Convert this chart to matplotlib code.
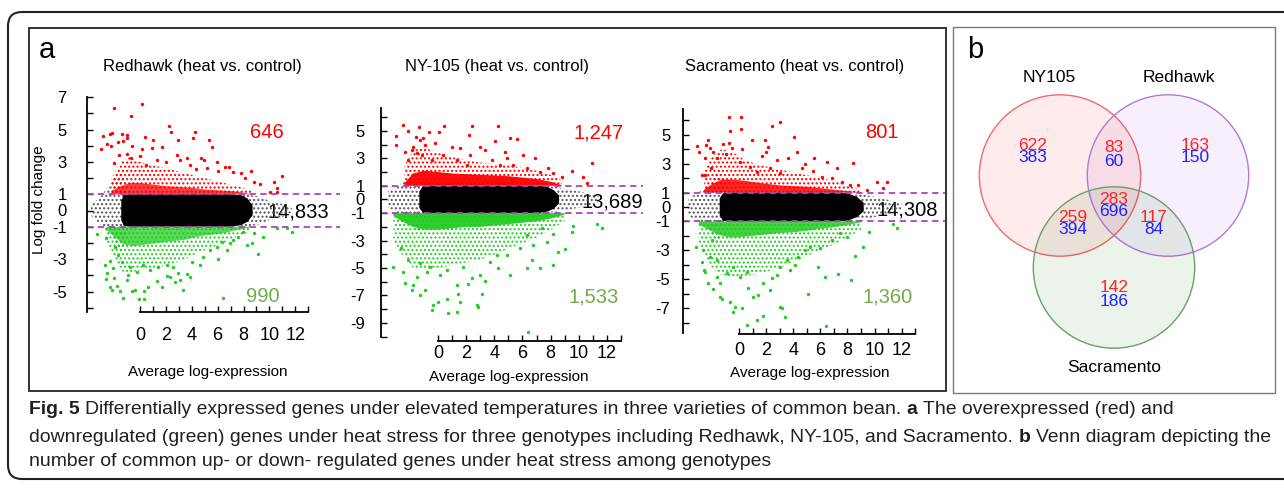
import numpy as np
import matplotlib
matplotlib.use('Agg')
import matplotlib.pyplot as plt
from matplotlib import font_manager
from matplotlib.patches import Circle, Rectangle, FancyBboxPatch

W, H = 1284, 488
RED = '#FF0000'
GREEN = '#22CC22'
PURPLE = '#B040C0'
COUNT_GREEN = '#70AD47'

plt.rcParams['font.family'] = 'Liberation Sans'
plt.rcParams['hatch.linewidth'] = 1.0

titles = ['Redhawk (heat vs. control)', 'NY-105 (heat vs. control)',
          'Sacramento (heat vs. control)']
up_counts = ['646', '1,247', '801']
down_counts = ['990', '1,533', '1,360']
ns_counts = ['14,833', '13,689', '14,308']

# ---- Redhawk: outlying up / down genes (avg log-expr, log fold change)
rh_up = [(-2.01, 6.31), (0.18, 6.55), (-0.72, 5.85), (2.22, 5.22), (2.40, 4.85),
         (4.28, 4.83), (-2.88, 4.58), (-2.32, 4.70), (-2.14, 4.80), (-1.42, 4.70),
         (-1.03, 4.66), (-0.98, 4.46), (0.36, 4.52), (1.03, 4.33), (2.91, 4.35),
         (4.10, 4.46), (5.33, 4.33), (5.59, 3.90), (-3.04, 3.80), (-2.52, 4.09),
         (-2.21, 4.00), (-1.70, 4.25), (-1.31, 4.29), (-0.59, 4.00), (0.18, 3.80),
         (0.90, 3.88), (1.70, 3.90), (2.83, 3.43), (3.66, 3.22), (4.69, 3.22),
         (4.95, 3.12), (5.92, 2.97), (6.54, 2.71), (6.88, 2.69), (7.78, 2.29),
         (8.55, 2.44), (8.81, 1.74), (10.97, 2.15), (10.38, 1.74), (10.56, 1.41),
         (-2.01, 2.91), (-1.60, 3.43), (-0.98, 3.47), (-0.72, 3.22), (0.00, 3.39),
         (0.46, 2.81), (1.29, 3.12), (2.01, 2.97), (3.09, 3.12), (3.86, 2.81),
         (4.33, 2.56), (5.20, 2.63), (6.05, 2.44), (7.21, 2.40), (8.11, 1.99),
         (9.27, 1.62), (10.05, 1.12), (10.59, 1.12)]
rh_down = [(-3.30, -1.47), (-2.63, -1.72), (-2.70, -3.36), (-2.52, -3.84), (-2.65, -4.25),
           (-2.01, -4.19), (-2.32, -4.74), (-1.80, -4.66), (-1.55, -4.95), (-1.29, -5.42),
           (-2.19, -4.91), (-1.03, -4.29), (-0.90, -3.98), (-0.64, -4.95), (-0.39, -4.91),
           (-0.05, -5.48), (0.31, -4.95), (0.33, -5.48), (0.64, -4.74), (1.29, -4.33),
           (1.67, -4.74), (2.11, -4.04), (2.70, -4.39), (3.09, -4.29), (3.30, -4.91),
           (3.61, -3.92), (3.86, -4.08), (3.99, -3.16), (4.64, -3.36), (6.05, -3.01),
           (6.44, -5.42), (6.96, -2.03), (7.21, -1.82), (7.99, -1.31), (8.63, -1.99),
           (8.84, -1.41), (9.09, -2.69), (9.53, -1.66), (10.56, -1.10), (11.33, -1.10),
           (11.72, -1.35), (-1.93, -2.23), (-1.67, -2.75), (-1.42, -3.16), (-2.32, -3.10),
           (-2.06, -3.57), (-0.77, -3.47), (-0.26, -3.78), (0.26, -3.36), (0.77, -3.67),
           (1.42, -3.47), (2.06, -3.36), (2.58, -3.47), (2.96, -3.88), (2.32, -4.08),
           (5.41, -2.44), (5.93, -2.23), (4.89, -2.85), (6.31, -1.92), (6.70, -2.44),
           (7.60, -1.62), (8.24, -2.13)]
rh_core_x = [-1.45, -1.25, -0.8, 0, 2, 4, 6, 7, 7.8, 8.3, 8.7]
rh_core_hi = [0.6, 0.95, 1.0, 1.0, 1.0, 1.0, 1.0, 1.0, 0.95, 0.75, 0.3]
rh_core_lo = [-0.6, -0.95, -1.0, -1.0, -1.0, -1.0, -1.0, -1.0, -0.9, -0.7, -0.3]
rh_fringe_x = [-3.8, -3.0, -2.2, -1.4, -1.0, 0.0, 8.0, 9.0, 10.0, 11.0, 11.8]
rh_fringe_hi = [0.3, 0.9, 1.8, 2.5, 1.2, 1.0, 1.0, 0.9, 0.6, 0.4, 0.1]
rh_fringe_lo = [-0.3, -0.9, -1.6, -2.6, -1.2, -1.0, -1.0, -0.9, -0.6, -0.4, -0.1]
rh_upband_x = [-2.2, -1.5, -0.8, 0, 1, 2, 3, 4, 5, 6, 7, 8, 8.6]
rh_upband_dense = [1.2, 1.5, 1.7, 1.7, 1.6, 1.5, 1.45, 1.4, 1.3, 1.25, 1.2, 1.1, 1.0]
rh_upband_sparse = [2.0, 3.0, 3.3, 3.0, 2.8, 2.6, 2.4, 2.2, 2.0, 1.8, 1.6, 1.4, 1.2]
rh_dnband_x = [-2.6, -2.0, -1.3, -0.5, 0.5, 1.5, 2.5, 3.5, 4.5, 5.5, 6.5, 7.5, 8.5]
rh_dnband_dense = [-1.2, -1.6, -2.1, -2.2, -2.1, -2.0, -1.9, -1.8, -1.6, -1.5, -1.4, -1.2, -1.05]
rh_dnband_sparse = [-2.0, -3.0, -3.8, -3.8, -3.6, -3.5, -3.3, -3.0, -2.6, -2.3, -2.0, -1.6, -1.3]

# ---- NY-105
ny_up = [(-2.49, 5.44), (-3.01, 4.66), (-3.04, 3.98), (-2.18, 5.02), (-1.38, 5.32),
         (-0.64, 4.95), (0.05, 4.95), (0.43, 5.39), (2.38, 5.39), (2.21, 4.71),
         (4.28, 5.39), (4.04, 4.27), (5.11, 4.46), (5.59, 4.39), (-1.59, 4.59),
         (-1.30, 4.34), (-1.07, 4.46), (-0.95, 3.98), (-1.78, 3.86), (-1.90, 3.61),
         (-2.37, 3.49), (-1.54, 3.37), (-0.24, 4.10), (0.95, 3.86), (1.55, 3.73),
         (2.26, 3.25), (2.97, 3.86), (3.33, 3.61), (4.75, 3.49), (4.87, 3.00),
         (6.06, 3.25), (6.89, 3.00), (7.84, 2.28), (8.79, 1.67), (9.51, 2.08),
         (10.29, 1.67), (10.93, 2.64), (10.58, 1.18), (-2.14, 2.88), (-1.19, 3.25),
         (-0.47, 2.88), (0.36, 3.25), (1.31, 2.88), (2.07, 2.52), (3.80, 2.88),
         (4.40, 2.52), (5.35, 2.52), (6.30, 2.28), (7.25, 2.03), (8.20, 1.91)]
ny_down = [(-3.21, -4.90), (-2.68, -3.52), (-2.37, -6.12), (-1.90, -6.61), (-1.78, -6.24),
           (-2.49, -5.27), (-2.14, -4.42), (-1.54, -5.63), (-1.30, -6.97), (-0.95, -6.61),
           (-0.47, -8.07), (-0.35, -7.70), (0.00, -7.46), (0.60, -7.26), (0.71, -8.31),
           (1.31, -8.19), (1.43, -6.90), (1.55, -7.46), (2.14, -6.19), (2.38, -5.75),
           (2.73, -7.70), (2.85, -7.87), (3.09, -6.92), (3.33, -5.95), (4.28, -5.02),
           (5.11, -5.51), (6.30, -4.98), (6.65, -4.42), (7.25, -4.98), (6.42, -9.70),
           (8.20, -4.78), (8.56, -3.86), (9.03, -3.61), (9.62, -1.91), (9.51, -2.35),
           (11.29, -1.81), (11.64, -2.10), (-1.30, -4.66), (-0.83, -5.27), (-0.59, -4.90),
           (0.12, -5.51), (0.60, -5.15), (1.31, -6.24), (1.78, -4.90), (2.97, -5.51),
           (3.68, -4.54), (4.16, -4.05), (4.87, -4.05), (5.82, -3.56), (6.77, -3.32),
           (7.72, -3.08), (8.15, -2.54), (7.37, -2.10), (6.30, -2.59)]
ny_core_x = [-1.35, -1.1, -0.6, 0, 2, 4, 6, 7, 7.7, 8.2, 8.6]
ny_core_hi = [0.6, 0.95, 1.0, 1.0, 1.0, 1.0, 1.0, 1.0, 0.95, 0.7, 0.3]
ny_core_lo = [-0.6, -0.95, -1.0, -1.0, -1.0, -1.0, -1.0, -1.0, -0.9, -0.7, -0.3]
ny_fringe_x = [-3.6, -3.0, -2.2, -1.4, -0.8, 0, 7.5, 8.5, 9.5, 10.5, 11.5]
ny_fringe_hi = [0.6, 0.9, 1.5, 2.0, 1.2, 1.0, 1.0, 0.9, 0.7, 0.5, 0.2]
ny_fringe_lo = [-0.6, -0.9, -1.5, -2.5, -1.2, -1.0, -1.0, -0.9, -0.7, -0.5, -0.2]
ny_upband_x = [-2.4, -1.8, -1.0, 0, 1, 2, 3, 4, 5, 6, 7, 8, 8.8]
ny_upband_dense = [1.2, 1.9, 2.1, 2.0, 1.9, 1.85, 1.8, 1.75, 1.7, 1.6, 1.5, 1.3, 1.05]
ny_upband_sparse = [2.5, 3.6, 3.8, 3.4, 3.1, 2.9, 2.7, 2.6, 2.5, 2.3, 2.1, 1.8, 1.4]
ny_dnband_x = [-3.2, -2.6, -1.8, -1.0, 0, 1, 2, 3, 4, 5, 6, 7, 8, 9]
ny_dnband_dense = [-1.2, -1.6, -2.0, -2.2, -2.2, -2.1, -2.0, -2.0, -1.9, -1.8, -1.7, -1.6, -1.4, -1.1]
ny_dnband_sparse = [-3.0, -4.0, -5.0, -5.0, -5.0, -4.8, -4.6, -4.4, -4.0, -3.6, -3.2, -2.8, -2.2, -1.6]

# ---- Sacramento
sa_up = [(-0.76, 6.25), (0.13, 6.21), (-0.69, 5.26), (0.13, 5.38), (2.39, 5.63),
         (3.01, 5.91), (4.05, 4.82), (-3.10, 4.24), (-2.98, 3.83), (-2.46, 4.29),
         (-2.29, 4.64), (-2.17, 4.06), (-2.54, 3.37), (-1.92, 3.83), (-1.67, 3.37),
         (-1.23, 4.34), (-0.98, 3.64), (-0.74, 4.41), (-0.56, 4.11), (0.22, 4.01),
         (0.96, 4.64), (1.90, 4.64), (1.97, 3.83), (1.65, 3.55), (2.15, 4.18),
         (4.24, 3.83), (2.76, 3.25), (3.63, 3.37), (4.86, 2.95), (5.53, 3.37),
         (4.61, 2.68), (6.46, 3.09), (7.20, 2.72), (8.43, 3.02), (8.80, 1.52),
         (9.42, 1.18), (10.16, 1.75), (10.65, 1.29), (10.95, 1.71), (0.05, 3.14),
         (0.79, 2.79), (1.28, 2.45), (2.27, 2.68), (3.01, 2.33), (5.48, 2.49),
         (6.09, 2.10), (6.83, 1.98), (7.57, 1.71), (8.19, 1.52), (-2.54, 2.21),
         (-2.12, 2.68), (-2.78, 2.21)]
sa_down = [(-3.20, -2.75), (-2.78, -3.78), (-2.61, -4.36), (-2.54, -4.48), (-2.29, -5.28),
           (-1.92, -5.70), (-1.67, -4.82), (-1.43, -6.21), (-1.30, -6.39), (-0.69, -6.55),
           (-0.44, -7.24), (-0.32, -6.90), (0.18, -7.01), (0.55, -8.17), (1.28, -7.82),
           (1.78, -7.52), (1.04, -6.21), (0.67, -5.63), (1.41, -6.09), (2.27, -5.74),
           (3.01, -6.90), (3.13, -7.01), (3.38, -7.64), (5.11, -6.04), (3.01, -4.13),
           (3.75, -4.36), (4.12, -4.01), (5.23, -2.75), (5.85, -4.13), (6.34, -4.87),
           (7.32, -4.64), (8.26, -5.05), (8.56, -3.39), (9.12, -2.75), (9.62, -1.75),
           (11.39, -1.20), (11.69, -1.43), (6.41, -8.24), (-1.43, -5.28), (-0.93, -4.59),
           (-0.44, -4.13), (0.05, -4.82), (0.55, -4.48), (1.78, -5.28), (2.39, -4.94),
           (2.76, -4.71), (3.50, -3.67), (4.37, -3.44), (4.86, -2.98), (5.97, -2.86),
           (6.83, -2.28), (7.45, -1.82), (7.94, -2.05), (-2.66, -2.98), (-2.17, -3.44),
           (-2.04, -2.28), (-1.67, -3.67)]
sa_core_x = [-1.45, -1.2, -0.7, 0, 2, 4, 6, 7, 8, 8.7, 9.2]
sa_core_hi = [0.6, 0.95, 1.0, 1.0, 1.0, 1.0, 1.0, 1.0, 0.95, 0.7, 0.3]
sa_core_lo = [-0.6, -0.95, -1.0, -1.0, -1.0, -1.0, -1.0, -1.0, -0.95, -0.7, -0.3]
sa_fringe_x = [-3.8, -3.0, -2.2, -1.5, -1.0, 0, 8, 9, 10, 11, 12]
sa_fringe_hi = [0.6, 1.0, 1.6, 2.6, 1.2, 1.0, 1.0, 0.9, 0.7, 0.5, 0.2]
sa_fringe_lo = [-0.6, -1.0, -1.6, -2.6, -1.2, -1.0, -1.0, -0.9, -0.7, -0.5, -0.2]
sa_upband_x = [-2.6, -2.0, -1.3, -0.5, 0.5, 2, 3, 4, 5, 6, 7, 8, 9]
sa_upband_dense = [1.2, 1.6, 1.9, 1.9, 1.8, 1.6, 1.5, 1.45, 1.4, 1.3, 1.2, 1.1, 1.0]
sa_upband_sparse = [2.5, 3.5, 4.0, 3.8, 3.2, 2.8, 2.6, 2.4, 2.2, 2.0, 1.8, 1.5, 1.2]
sa_dnband_x = [-3.0, -2.4, -1.6, -0.8, 0, 1, 2, 3, 4, 5, 6, 7, 8, 9]
sa_dnband_dense = [-1.2, -1.5, -1.9, -2.1, -2.1, -2.0, -1.9, -1.8, -1.75, -1.65, -1.5, -1.4, -1.25, -1.05]
sa_dnband_sparse = [-2.6, -3.8, -4.6, -4.8, -4.8, -4.7, -4.5, -4.2, -3.8, -3.4, -3.0, -2.6, -2.1, -1.6]

# y tick labels shown on each panel
rh_yticklabels = [7, 5, 3, 1, 0, -1, -3, -5]
ny_yticklabels = [5, 3, 1, 0, -1, -3, -5, -7, -9]
sa_yticklabels = [5, 3, 1, 0, -1, -3, -5, -7]
x_ticks = list(range(0, 14))
x_ticklabels = [0, 2, 4, 6, 8, 10, 12]

# Venn diagram (b)
venn_names = ['NY105', 'Redhawk', 'Sacramento']
venn_up = [622, 83, 163, 283, 259, 117, 142]
venn_down = [383, 60, 150, 696, 394, 84, 186]


fig = plt.figure(figsize=(W / 100, H / 100), dpi=100)

# overlay axes in pixel coordinates (origin top-left)
ov = fig.add_axes([0, 0, 1, 1])
ov.set_xlim(0, W)
ov.set_ylim(H, 0)
ov.axis('off')
ov.set_zorder(0)


def band(ax, x, lo, hi, **kw):
    x = np.asarray(x, float)
    lo = np.broadcast_to(np.asarray(lo, float), x.shape)
    hi = np.asarray(hi, float)
    ax.fill(np.concatenate([x, x[::-1]]), np.concatenate([hi, lo[::-1]]),
            lw=0, clip_on=False, **kw)


def ma_panel(box, x0, xs, y0, ys, yticks, ylabels, ypad, xpad, spine_lo,
             core, fringe, upband, dnband, up, down, dense_alpha):
    # box in pixels (left, top, right, bottom); x0/y0 pixel position of data 0
    l, t, r, b = box
    ax = fig.add_axes([l / W, 1 - b / H, (r - l) / W, (b - t) / H])
    ax.set_zorder(1)
    ax.patch.set_visible(False)
    ax.set_xlim((l - x0) / xs, (r - x0) / xs)
    ax.set_ylim((y0 - b) / ys, (y0 - t) / ys)

    band(ax, fringe[0], fringe[1], fringe[2], facecolor='none',
         edgecolor='#555555', hatch='....')
    band(ax, core[0], core[1], core[2], color='black')
    band(ax, upband[0], 1.0, upband[2], facecolor='none', edgecolor=RED, hatch='....')
    band(ax, upband[0], 1.0, upband[1], facecolor=RED, alpha=dense_alpha)
    band(ax, dnband[0], -1.0, dnband[2], facecolor='none', edgecolor=GREEN, hatch='....')
    band(ax, dnband[0], -1.0, dnband[1], facecolor=GREEN, alpha=dense_alpha)

    ux, uy = zip(*up)
    dx, dy = zip(*down)
    ax.scatter(ux, uy, s=6, c=RED, lw=0, clip_on=False)
    ax.scatter(dx, dy, s=6, c=GREEN, lw=0, clip_on=False)

    for lvl in (1, -1):
        ax.axhline(lvl, color=PURPLE, lw=1.3, ls=(0, (3.5, 2.5)))

    for s in ('top', 'right'):
        ax.spines[s].set_visible(False)
    ax.spines['left'].set_bounds(spine_lo, ax.get_ylim()[1])
    ax.spines['bottom'].set_bounds(0, 13)
    for s in ('left', 'bottom'):
        ax.spines[s].set_linewidth(1.3)

    ax.set_yticks(yticks)
    ax.set_yticklabels([str(v) if v in ylabels else '' for v in yticks])
    ax.set_xticks(x_ticks)
    ax.set_xticklabels([str(v) if v in x_ticklabels else '' for v in x_ticks])
    ax.tick_params(direction='in', length=4, width=1, labelsize=13)
    ax.tick_params(axis='y', pad=ypad, labelsize=12)
    ax.tick_params(axis='x', pad=xpad)
    return ax


ma_panel((87, 97, 340, 312), 140, 12.94, 210.5, 16.2, list(range(-6, 8)),
         rh_yticklabels, 14.6, 10.8, -6.265,
         (rh_core_x, rh_core_lo, rh_core_hi),
         (rh_fringe_x, rh_fringe_lo, rh_fringe_hi),
         (rh_upband_x, rh_upband_dense, rh_upband_sparse),
         (rh_dnband_x, rh_dnband_dense, rh_dnband_sparse),
         rh_up, rh_down, 0.75)
ma_panel((381, 108, 643, 341), 438.3, 14.03, 199.5, 13.7, list(range(-10, 7)),
         ny_yticklabels, 11.5, 2.8, -10.04,
         (ny_core_x, ny_core_lo, ny_core_hi),
         (ny_fringe_x, ny_fringe_lo, ny_fringe_hi),
         (ny_upband_x, ny_upband_dense, ny_upband_sparse),
         (ny_dnband_x, ny_dnband_dense, ny_dnband_sparse),
         ny_up, ny_down, 0.95)
ma_panel((682.7, 109, 945, 333.5), 739.3, 13.52, 207, 14.45, list(range(-8, 7)),
         sa_yticklabels, 9.0, 6.0, -8.754,
         (sa_core_x, sa_core_lo, sa_core_hi),
         (sa_fringe_x, sa_fringe_lo, sa_fringe_hi),
         (sa_upband_x, sa_upband_dense, sa_upband_sparse),
         (sa_dnband_x, sa_dnband_dense, sa_dnband_sparse),
         sa_up, sa_down, 0.85)

# titles, counts and axis labels (pixel positions)
title_pos = [(202, 66), (497, 66), (795, 66)]
up_pos = [(267, 133), (599, 133), (882, 133)]
down_pos = [(263, 297), (594, 297), (888, 297)]
ns_pos = [(298, 212), (612, 202), (907, 210)]
xlab_pos = [(208, 372), (509, 377), (810, 373)]
for i in range(3):
    ov.text(*title_pos[i], titles[i], fontsize=12, ha='center', va='center')
    ov.text(*up_pos[i], up_counts[i], fontsize=14.5, color=RED, ha='center', va='center')
    ov.text(*down_pos[i], down_counts[i], fontsize=14.5, color=COUNT_GREEN,
            ha='center', va='center')
    ov.text(*ns_pos[i], ns_counts[i], fontsize=14.5, ha='center', va='center')
    ov.text(*xlab_pos[i], 'Average log-expression', fontsize=11, ha='center', va='center')
ov.text(39, 200, 'Log fold change', fontsize=11, rotation=90, ha='center', va='center')
ov.text(47, 50, 'a', fontsize=21, ha='center', va='center')
ov.text(975, 50, 'b', fontsize=21, ha='center', va='center')

# frames
ov.add_patch(FancyBboxPatch((8, 12), 1320, 467, boxstyle='round,pad=0,rounding_size=14',
                            fc='none', ec='#222222', lw=1.5))
ov.add_patch(Rectangle((29, 28), 917, 363, fc='none', ec='#333333', lw=1.4))
ov.add_patch(Rectangle((953, 27), 322, 366, fc='none', ec='#777777', lw=1.0))

# Venn diagram
venn_centers = [(1060, 175.5), (1168, 175.5), (1114, 267.5)]
venn_edge = ['#F06A6A', '#B27AD8', '#6A9E6A']
venn_face = ['#FF0000', '#9933CC', '#006600']
for c, ec, fc in zip(venn_centers, venn_edge, venn_face):
    ov.add_patch(Circle(c, 80.7, fc=fc, alpha=0.08, lw=0))
    ov.add_patch(Circle(c, 80.7, fc='none', ec=ec, lw=1.0))
venn_label_pos = [(1049, 77), (1179, 77), (1114, 367)]
for name, p in zip(venn_names, venn_label_pos):
    ov.text(*p, name, fontsize=12.5, ha='center', va='center')
venn_num_pos = [(1033, 145), (1114, 148), (1195, 145), (1114, 199),
                (1073, 217), (1154, 217), (1114, 288)]
for u, d, p in zip(venn_up, venn_down, venn_num_pos):
    ov.text(p[0], p[1] + 13, str(d), fontsize=12.5, color='#2222FF', ha='center', va='center')
    ov.text(p[0], p[1], str(u), fontsize=12.5, color='#FF2222', ha='center', va='center')

# caption
names = {f.name for f in font_manager.fontManager.ttflist}
cap_font = 'Liberation Sans Narrow' if 'Liberation Sans Narrow' in names else 'Liberation Sans'
cap_lines = [
    [('Fig. 5', 'bold'), ('Differentially expressed genes under elevated temperatures in three '
                          'varieties of common bean.', 'normal'), ('a', 'bold'),
     ('The overexpressed (red) and', 'normal')],
    [('downregulated (green) genes under heat stress for three genotypes including Redhawk, '
      'NY-105, and Sacramento.', 'normal'), ('b', 'bold'), ('Venn diagram depicting the', 'normal')],
    [('number of common up- or down- regulated genes under heat stress among genotypes', 'normal')],
]
cap_y = [410, 437, 462]
cap_targets = [1141, 1246]

renderer = fig.canvas.get_renderer()


def text_w(s, size, weight):
    t = fig.text(0, 0, 'X' + s + 'X', fontsize=size, weight=weight, family=cap_font)
    t2 = fig.text(0, 0, 'XX', fontsize=size, weight=weight, family=cap_font)
    w = t.get_window_extent(renderer).width - t2.get_window_extent(renderer).width
    t.remove()
    t2.remove()
    return w


def line_w(parts, size):
    sp = text_w(' ', size, 'normal')
    return sum(text_w(s, size, w) for s, w in parts) + sp * (len(parts) - 1)


base = 10.0
scale = sum(cap_targets) / (line_w(cap_lines[0], base) + line_w(cap_lines[1], base))
cap_size = base * scale
space = text_w(' ', cap_size, 'normal')
for parts, y in zip(cap_lines, cap_y):
    x = 29
    for s, w in parts:
        ov.text(x, y, s, fontsize=cap_size, weight=w, family=cap_font,
                ha='left', va='center', color='#231F20')
        x += text_w(s, cap_size, w) + space

fig.savefig('out.png', dpi=100)
